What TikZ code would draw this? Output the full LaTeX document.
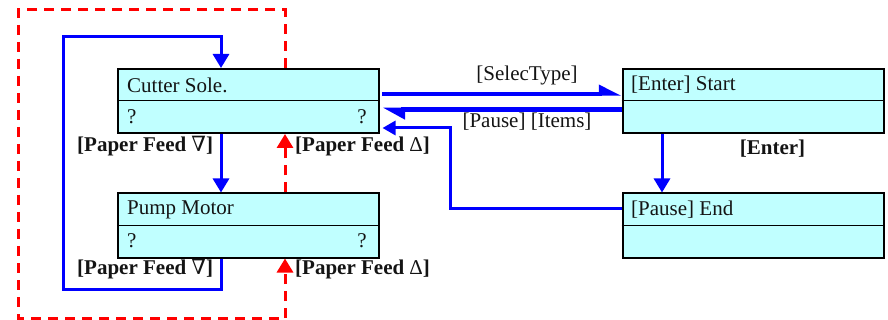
\documentclass[tikz,border=0pt]{standalone}
\usepackage{fontspec}
\setmainfont{Liberation Serif}
\newfontfamily\nablafont{DejaVu Serif}
\usetikzlibrary{arrows.meta,calc}
\definecolor{boxfill}{RGB}{192,255,255}
\definecolor{txtcol}{RGB}{20,20,20}
\begin{document}
\begin{tikzpicture}[x=1pt,y=-1pt,
  font=\fontsize{21}{24}\selectfont,
  box/.style={draw=black,line width=2pt,fill=boxfill,minimum width=261pt,minimum height=64pt,inner sep=0pt},
  txt/.style={anchor=west,inner sep=0pt,text=txtcol},
  txtr/.style={anchor=east,inner sep=0pt,text=txtcol},
  lbl/.style={inner sep=0pt,text=txtcol},
  blbl/.style={inner sep=0pt,text=txtcol,font=\fontsize{21}{24}\selectfont\bfseries},
  divider/.style={line width=1pt,black},
  bl/.style={blue,line width=3pt},
  tri/.style={-{Triangle[length=14pt,width=16pt]}},
  reddash/.style={red,line width=3pt,dash pattern=on 10pt off 7pt}]
\useasboundingbox (0,0) rectangle (888,320);

% boxes
\node[box] (cs) at (248.5,101) {};
\draw[divider] (cs.west) -- (cs.east);
\node[txt] (cst) at (127,85) {Cutter Sole.};
\node[txt] (csq1) at (127,117) {?};
\node[txtr] (csq2) at (367,117) {?};

\node[box] (pm) at (248.5,225.5) {};
\draw[divider] (pm.west) -- (pm.east);
\node[txt] (pmt) at (127,210) {Pump Motor};
\node[txt] (pmq1) at (127,241) {?};
\node[txtr] (pmq2) at (367,241) {?};

\node[box] (st) at (753,101) {};
\draw[divider] (st.west) -- (st.east);
\node[txt] (stt) at (631,85) {[Enter] Start};

\node[box] (en) at (753,225.5) {};
\draw[divider] (en.west) -- (en.east);
\node[txt] (ent) at (631,210) {[Pause] End};

% red dashed frame
\coordinate (rb) at (285,318);
\coordinate (lb) at (18,318);
\coordinate (lt) at (18,10);
\coordinate (rt) at (285,10);
\draw[reddash] (cs.north -| rt) -- (rt) -- (lt) -- (lb) -- (rb);
\draw[reddash,tri] (rb) -- (pm.south -| rb);
\draw[reddash,tri] (pm.north -| rb) -- (cs.south -| rb);

% blue loop
\coordinate (b1) at (221,289);
\coordinate (b2) at (63,289);
\coordinate (b3) at (63,37);
\coordinate (b4) at (221,37);
\draw[bl,tri] (pm.south -| b1) -- (b1) -- (b2) -- (b3) -- (b4) -- (cs.north -| b4);
\draw[bl,tri] (cs.south -| b4) -- (pm.north -| b4);

% labels left
\node[blbl,anchor=west] (pf1) at (77,146) {{[}Paper Feed {\nablafont\mdseries ∇}{]}};
\node[blbl,anchor=west] (pf2) at (295,146) {{[}Paper Feed {\mdseries Δ}{]}};
\node[blbl,anchor=west] (pf3) at (77,269) {{[}Paper Feed {\nablafont\mdseries ∇}{]}};
\node[blbl,anchor=west] (pf4) at (295,269) {{[}Paper Feed {\mdseries Δ}{]}};

% right arrows
\coordinate (ya) at (0,94);
\coordinate (yb) at (0,110);
\coordinate (c1) at (450,209);
\coordinate (c2) at (450,128);
\coordinate (ex) at (662,0);
\draw[blue,line width=3.5pt,shorten <=2pt,-{Triangle[harpoon,length=19pt,width=18pt]}] (cs.east |- ya) -- (st.west |- ya);
\draw[blue,line width=5pt,shorten >=2.5pt,-{Triangle[harpoon,length=18pt,width=18pt]}] (st.west |- yb) -- (cs.east |- yb);
\draw[bl,shorten >=2.5pt,-{Triangle[length=13pt,width=14pt]}] (en.west |- c1) -- (c1) -- (c2) -- (cs.east |- c2);
\draw[bl,tri] (st.south -| ex) -- (en.north -| ex);

\node[lbl] (sel) at (527,75) {[SelecType]};
\node[lbl] (pit) at (527,122) {[Pause] [Items]};
\node[blbl] (entr) at (772.5,149) {[Enter]};
\end{tikzpicture}
\end{document}
